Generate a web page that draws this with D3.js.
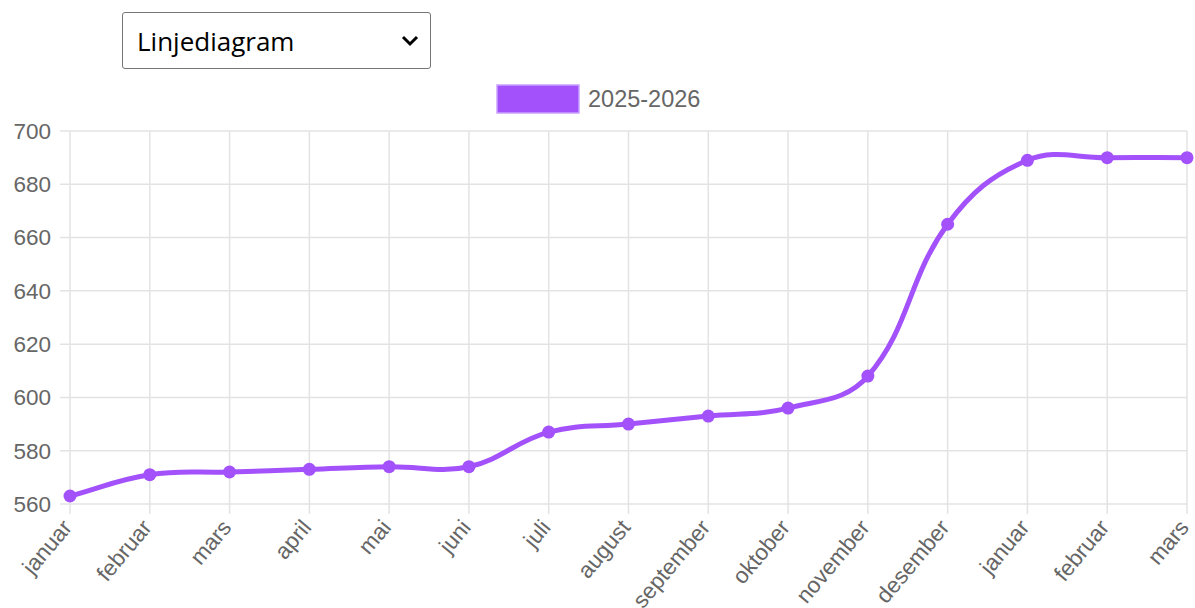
<!doctype html>
<html>
<head>
<meta charset="utf-8">
<title>Linjediagram</title>
<script src="https://cdn.jsdelivr.net/npm/d3@7"></script>
<style>
  html, body { margin: 0; padding: 0; background: #fff; }
  #wrap { position: relative; width: 1195px; height: 608px; overflow: hidden; }
  #type {
    position: absolute; left: 122px; top: 12px; width: 309px; height: 57px;
    font-family: "Open Sans", "Noto Sans", sans-serif; font-size: 26px; color: #000;
    border: 1px solid #767676; border-radius: 3px; padding: 0 14px;
    -webkit-appearance: none; appearance: none;
    background: #fff url("data:image/svg+xml,%3Csvg xmlns='http://www.w3.org/2000/svg' width='18' height='12'%3E%3Cpath d='M2 2 L9 9 L16 2' fill='none' stroke='black' stroke-width='3'/%3E%3C/svg%3E") no-repeat right 11px center;
  }
  svg { position: absolute; left: 0; top: 0; }
</style>
</head>
<body>
<div id="wrap">
  <select id="type">
    <option>Linjediagram</option>
    <option>Stolpediagram</option>
  </select>
  <svg id="chart" width="1195" height="608"></svg>
</div>
<script>
// data
const months = ["januar", "februar", "mars", "april", "mai", "juni", "juli", "august",
  "september", "oktober", "november", "desember", "januar", "februar", "mars"];
const values = [563, 571, 572, 573, 574, 574, 587, 590, 593, 596, 608, 665, 689, 690, 690];
const seriesName = "2025-2026";
const yTicks = [560, 580, 600, 620, 640, 660, 680, 700];

const purple = "#a352fb";
const font = "'Liberation Sans', Arial, Helvetica, sans-serif";

const svg = d3.select("#chart");
const area = { left: 70, right: 1187, top: 131, bottom: 504 };

const x = d3.scalePoint().domain(d3.range(months.length)).range([area.left, area.right]);
const y = d3.scaleLinear().domain([560, 700]).range([area.bottom, area.top]);

// grid
const grid = svg.append("g").attr("stroke", "#e3e3e3").attr("stroke-width", 1.5);
grid.selectAll(".v").data(d3.range(months.length)).join("line")
  .attr("x1", d => x(d)).attr("x2", d => x(d))
  .attr("y1", area.top).attr("y2", area.bottom + 10);
grid.selectAll(".h").data(yTicks).join("line")
  .attr("x1", area.left - 10).attr("x2", area.right)
  .attr("y1", d => y(d)).attr("y2", d => y(d));

// y labels
svg.append("g").selectAll("text").data(yTicks).join("text")
  .attr("x", area.left - 19).attr("y", d => y(d))
  .attr("dy", "0.35em").attr("text-anchor", "end")
  .attr("font-family", font).attr("font-size", 22.5).attr("fill", "#666")
  .text(d => d);

// x labels, rotated
svg.append("g").selectAll("text").data(months).join("text")
  .attr("transform", (d, i) => `translate(${x(i) - 3},${area.bottom + 19}) rotate(-50)`)
  .attr("dy", "0.35em").attr("text-anchor", "end")
  .attr("font-family", font).attr("font-size", 22.5).attr("fill", "#666")
  .text(d => d);

// legend
const lg = svg.append("g");
lg.append("rect").attr("x", 497).attr("y", 85).attr("width", 82).attr("height", 28)
  .attr("fill", purple).attr("stroke", "#c9a2ff").attr("stroke-width", 1.5);
lg.append("text").attr("x", 588).attr("y", 99).attr("dy", "0.35em")
  .attr("font-family", font).attr("font-size", 23.5).attr("fill", "#666")
  .text(seriesName);

// Chart.js-like spline, tension 0.4
const pts = values.map((v, i) => ({ x: x(i), y: y(v) }));
const t = 0.4;
pts.forEach((p, i) => {
  const prev = pts[i - 1] || p, next = pts[i + 1] || p;
  const d01 = Math.hypot(p.x - prev.x, p.y - prev.y);
  const d12 = Math.hypot(next.x - p.x, next.y - p.y);
  let s01 = d01 / (d01 + d12), s12 = d12 / (d01 + d12);
  if (isNaN(s01)) s01 = 0;
  if (isNaN(s12)) s12 = 0;
  const fa = t * s01, fb = t * s12;
  p.cpPrev = { x: p.x - fa * (next.x - prev.x), y: p.y - fa * (next.y - prev.y) };
  p.cpNext = { x: p.x + fb * (next.x - prev.x), y: p.y + fb * (next.y - prev.y) };
});
const clampY = v => Math.max(area.top, Math.min(area.bottom, v));
const path = d3.path();
pts.forEach((p, i) => {
  if (i === 0) { path.moveTo(p.x, p.y); return; }
  const a = pts[i - 1];
  path.bezierCurveTo(a.cpNext.x, clampY(a.cpNext.y), p.cpPrev.x, clampY(p.cpPrev.y), p.x, p.y);
});
svg.append("path").attr("d", path.toString())
  .attr("fill", "none").attr("stroke", purple).attr("stroke-width", 5)
  .attr("stroke-linejoin", "round");

svg.append("g").selectAll("circle").data(values).join("circle")
  .attr("cx", (d, i) => x(i)).attr("cy", d => y(d)).attr("r", 6.5)
  .attr("fill", purple);
</script>
</body>
</html>
